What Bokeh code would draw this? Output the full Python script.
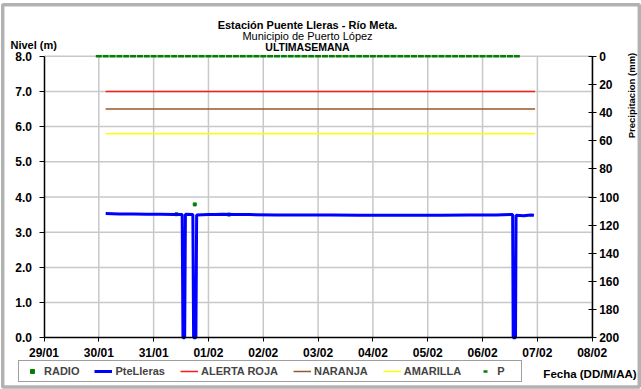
import pandas as pd
from math import pi
from bokeh.plotting import figure
from bokeh.models import (Range1d, LinearAxis, FixedTicker, DatetimeTickFormatter,
                          PrintfTickFormatter, Legend, LegendItem, Label, BoxAnnotation)
from bokeh.embed import file_html
from bokeh.resources import INLINE

# ---------------- data ----------------
DAY_TICKS = ["2015-01-29", "2015-01-30", "2015-01-31", "2015-02-01", "2015-02-02",
             "2015-02-03", "2015-02-04", "2015-02-05", "2015-02-06", "2015-02-07",
             "2015-02-08"]
LEVEL_TICKS = [0, 1, 2, 3, 4, 5, 6, 7, 8]
PRECIP_TICKS = [0, 20, 40, 60, 80, 100, 120, 140, 160, 180, 200]

LEVEL_TIMES = [
    "2015-01-30 03:00", "2015-01-30 09:00", "2015-01-30 15:00", "2015-01-30 21:00",
    "2015-01-31 03:00", "2015-01-31 09:00", "2015-01-31 12:30", "2015-01-31 12:50",
    "2015-01-31 13:35", "2015-01-31 13:55", "2015-01-31 17:10", "2015-01-31 17:30",
    "2015-01-31 18:30", "2015-01-31 18:50", "2015-02-01 00:00", "2015-02-01 03:00",
    "2015-02-01 06:00", "2015-02-01 12:00", "2015-02-01 18:00", "2015-02-02 06:00",
    "2015-02-02 18:00", "2015-02-03 06:00", "2015-02-03 18:00", "2015-02-04 06:00",
    "2015-02-04 18:00", "2015-02-05 06:00", "2015-02-05 18:00", "2015-02-06 06:00",
    "2015-02-06 12:00", "2015-02-06 13:10", "2015-02-06 13:25", "2015-02-06 14:25",
    "2015-02-06 14:40", "2015-02-06 18:00", "2015-02-06 21:00", "2015-02-06 22:30",
]
LEVEL_VALUES = [
    3.53, 3.52, 3.52, 3.51,
    3.51, 3.50, 3.50, 0.00,
    0.00, 3.51, 3.50, 0.00,
    0.00, 3.49, 3.50, 3.50,
    3.51, 3.50, 3.50, 3.49,
    3.49, 3.49, 3.48, 3.48,
    3.48, 3.48, 3.49, 3.49,
    3.50, 3.50, 0.00, 0.00,
    3.48, 3.47, 3.49, 3.48,
]

ALERT_TIMES = ["2015-01-30 03:00", "2015-02-06 23:00"]
ALERTA_ROJA = [7.0, 7.0]
NARANJA = [6.5, 6.5]
AMARILLA = [5.8, 5.8]

RADIO_TIMES = ["2015-01-31 10:00", "2015-01-31 18:00", "2015-02-01 09:00"]
RADIO_VALUES = [3.51, 3.79, 3.50]

P_START = "2015-01-30 00:00"
P_VALUES = [0.0, 0.0, 0.0, 0.0, 0.0, 0.0, 0.0, 0.0, 0.0, 0.0,
            0.0, 0.0, 0.0, 0.0, 0.0, 0.0, 0.0, 0.0, 0.0, 0.0,
            0.0, 0.0, 0.0, 0.0, 0.0, 0.0, 0.0, 0.0, 0.0, 0.0,
            0.0, 0.0, 0.0, 0.0, 0.0, 0.0, 0.0, 0.0, 0.0, 0.0,
            0.0, 0.0, 0.0, 0.0, 0.0, 0.0, 0.0, 0.0, 0.0, 0.0,
            0.0, 0.0, 0.0, 0.0, 0.0, 0.0, 0.0, 0.0, 0.0, 0.0,
            0.0, 0.0]

# ---------------- layout (page pixels) ----------------
W, H = 641, 389
FL, FR, FT, FB = 43.5, 591.7, 55.7, 337.3   # plot area edges
DAY_MS = 86400000.0


def ms(s):
    return pd.Timestamp(s).value / 1e6


X0, X1 = ms(DAY_TICKS[0]), ms(DAY_TICKS[-1])
Y0, Y1 = LEVEL_TICKS[0], LEVEL_TICKS[-1]
P0, P1 = PRECIP_TICKS[0], PRECIP_TICKS[-1]
PX_X = (FR - FL) / (X1 - X0)        # px per ms
PX_Y = (FB - FT) / (Y1 - Y0)        # px per level unit


def xd(px):
    return X0 + (px - FL) / PX_X


def yd(py):
    return Y0 + (FB - py) / PX_Y


def lvl_to_p(v):
    # precipitation axis: 0 mm at top of the level axis, 200 mm at the bottom
    return P1 - (v - Y0) / (Y1 - Y0) * (P1 - P0)


FONT = "Liberation Sans"

p = figure(width=W, height=H, x_axis_type="datetime",
           x_range=Range1d(xd(0), xd(W)), y_range=Range1d(yd(H), yd(0)),
           output_backend="svg", toolbar_location=None, min_border=0,
           min_border_left=0, min_border_right=0, min_border_top=0,
           min_border_bottom=0)
p.title.visible = False
p.outline_line_color = None
p.background_fill_color = "white"
p.border_fill_color = "white"
p.grid.visible = False

p.extra_y_ranges = {"precip": Range1d(start=lvl_to_p(yd(H)), end=lvl_to_p(yd(0)))}
rax = LinearAxis(y_range_name="precip", ticker=FixedTicker(ticks=PRECIP_TICKS))
p.add_layout(rax, "right")

xax = p.xaxis[0]
yax = p.yaxis[0]
xax.ticker = FixedTicker(ticks=[ms(d) for d in DAY_TICKS])
fmt = "%d/%m"
xax.formatter = DatetimeTickFormatter(days=fmt, months=fmt, hours=fmt, hourmin=fmt,
                                      minutes=fmt, years=fmt, seconds=fmt,
                                      minsec=fmt, milliseconds=fmt,
                                      microseconds=fmt)
yax.ticker = FixedTicker(ticks=LEVEL_TICKS)
yax.formatter = PrintfTickFormatter(format="%.1f")

xax.fixed_location = Y0
xax.bounds = (X0, X1)
yax.fixed_location = X0
yax.bounds = (Y0, Y1)
rax.fixed_location = X1
rax.bounds = (P0, P1)

for ax in [xax, yax, rax]:
    ax.axis_line_color = "black"
    ax.axis_line_width = 1.5
    ax.major_tick_line_color = "black"
    ax.major_tick_line_width = 1
    ax.minor_tick_line_color = None
    ax.major_label_text_font = FONT
    ax.major_label_text_font_style = "bold"
    ax.major_label_text_font_size = "12px"
    ax.major_label_text_color = "black"

yax.major_tick_out = 5
yax.major_tick_in = 0
yax.major_label_standoff = 7
xax.major_tick_out = 4
xax.major_tick_in = 0
xax.major_label_standoff = 4
rax.major_tick_out = 4
rax.major_tick_in = 4
rax.major_label_standoff = 3

# grid lines (from the tick arrays)
day_t = pd.to_datetime(DAY_TICKS)
p.segment(x0=day_t[1:], y0=[Y0] * (len(DAY_TICKS) - 1), x1=day_t[1:],
          y1=[Y1] * (len(DAY_TICKS) - 1), line_color="#c8c8c8", line_width=1.5,
          level="underlay")
p.segment(x0=[day_t[0]] * (len(LEVEL_TICKS) - 1), y0=LEVEL_TICKS[1:],
          x1=[day_t[-1]] * (len(LEVEL_TICKS) - 1), y1=LEVEL_TICKS[1:],
          line_color="#c8c8c8", line_width=1.5, level="underlay")

alert_t = pd.to_datetime(ALERT_TIMES)
r_roja = p.line(alert_t, ALERTA_ROJA, line_color="#ff1a1a", line_width=1.5)
r_nar = p.line(alert_t, NARANJA, line_color="#99582a", line_width=1.5)
r_ama = p.line(alert_t, AMARILLA, line_color="#ffff00", line_width=1.5)
r_radio = p.scatter(pd.to_datetime(RADIO_TIMES), RADIO_VALUES, marker="square", size=3,
                    fill_color="#008000", line_color="#008000")
r_lvl = p.line(pd.to_datetime(LEVEL_TIMES), LEVEL_VALUES, line_color="#0000ff",
               line_width=3)
p_times = pd.date_range(P_START, periods=len(P_VALUES), freq="3h")
r_p = p.scatter(p_times, P_VALUES, y_range_name="precip", marker="dash", size=6,
                line_width=2.5, line_color="#008000")

legend = Legend(items=[
    LegendItem(label="RADIO", renderers=[r_radio]),
    LegendItem(label="PteLleras", renderers=[r_lvl]),
    LegendItem(label="ALERTA ROJA", renderers=[r_roja]),
    LegendItem(label="NARANJA", renderers=[r_nar]),
    LegendItem(label="AMARILLA", renderers=[r_ama]),
    LegendItem(label="P", renderers=[r_p]),
], location=(18, 7), orientation="horizontal", glyph_width=18, glyph_height=10,
    label_height=10, label_standoff=3, spacing=15, padding=4, margin=0,
    label_text_font=FONT, label_text_font_style="bold", label_text_font_size="11px",
    border_line_color="#404040", border_line_width=1, background_fill_color="white",
    background_fill_alpha=1.0)
p.add_layout(legend)


def label(px, py, text, size, style="bold", align="center", angle=0.0):
    p.add_layout(Label(x=xd(px), y=yd(py), text=text, text_align=align,
                       text_baseline="middle", text_font=FONT, text_font_style=style,
                       text_font_size=size, text_color="black", angle=angle))


label(307, 24, "Estación Puente Lleras - Río Meta.", "11px")
label(307, 35, "Municipio de Puerto López", "11px", style="normal")
label(307, 46, "ULTIMASEMANA", "10.5px")
label(10, 44, "Nivel (m)", "11px", align="left")
label(631, 95, "Precipitacion (mm)", "9.5px", angle=pi / 2)
label(589.5, 373, "Fecha (DD/M/AA)", "11.5px")

p.add_layout(BoxAnnotation(left=xd(2.2), right=xd(638.8), top=yd(4.2), bottom=yd(386.5),
                           fill_color=None, fill_alpha=0, line_color="black",
                           line_width=3.5, level="overlay"))

open("out.html", "w").write(file_html(p, INLINE))
